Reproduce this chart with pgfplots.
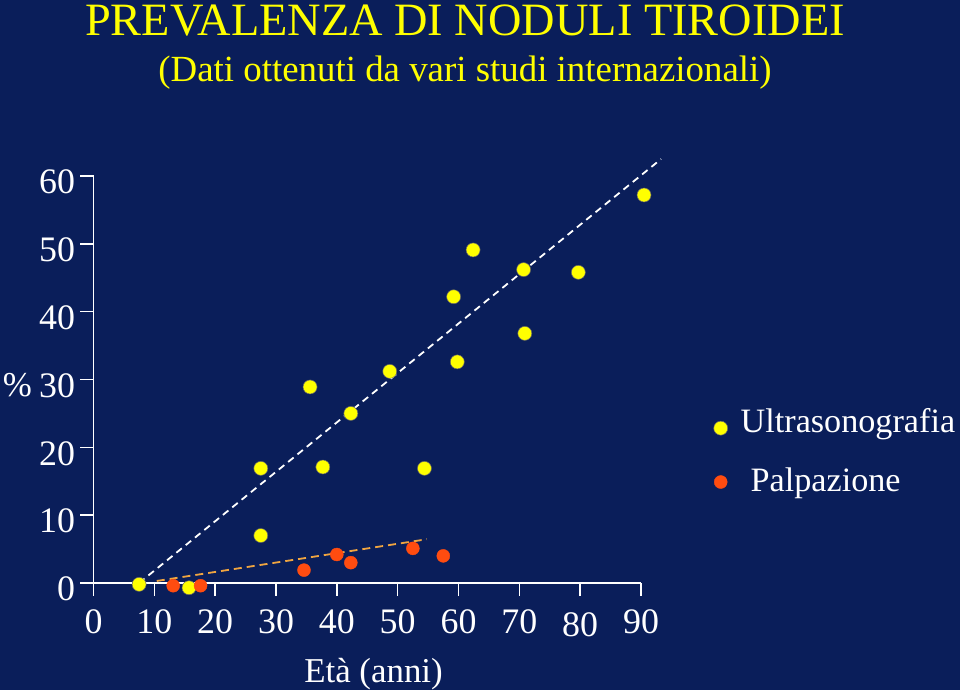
\documentclass[border=0pt]{standalone}
\usepackage{fontspec}
\setmainfont{Liberation Serif}
\usepackage{pgfplots}
\pgfplotsset{compat=1.18}

\definecolor{navy}{RGB}{10,30,90}
\definecolor{dotyellow}{RGB}{255,255,0}
\definecolor{dotorange}{RGB}{255,76,16}
\definecolor{lineorange}{RGB}{240,165,64}

\begin{document}
\begin{tikzpicture}
\fill[navy] (0bp,0bp) rectangle (960bp,690bp);
\useasboundingbox (0bp,0bp) rectangle (960bp,690bp);

\node[anchor=base, text=dotyellow, font=\fontsize{46.5}{46.5}\selectfont, inner sep=0pt]
  at (465bp,654bp) {PREVALENZA DI NODULI TIROIDEI};
\node[anchor=base, text=dotyellow, font=\fontsize{37}{37}\selectfont, inner sep=0pt]
  at (465bp,608bp) {(Dati ottenuti da vari studi internazionali)};

\begin{axis}[
    at={(93.5bp,107bp)}, anchor=south west,
    scale only axis, width=547.5bp, height=407bp,
    xmin=0, xmax=90, ymin=0, ymax=60,
    clip=false,
    axis lines*=left,
    axis line style={white, line width=1.6bp},
    tick align=outside,
    major tick length=13bp,
    tick style={white, line width=1.6bp},
    xtick={0,10,...,90},
    xticklabels={0,10,20,30,40,50,60,70,\raisebox{-3.5bp}[\height][\depth]{80},90},
    ytick={0,10,...,60},
    /pgf/number format/assume math mode=true,
    ticklabel style={text=white, font=\fontsize{36}{36}\selectfont},
    xticklabel style={anchor=north, yshift=-10bp},
    yticklabel style={anchor=east, yshift=-6bp, xshift=-2bp},
    legend style={at={(rel axis cs:1.127,0.32)}, anchor=west, draw=none, fill=none,
      text=white, font=\fontsize{34.3}{34.3}\selectfont, row sep=16bp},
    legend cell align=left,
]
% regression lines
\addplot[forget plot, white, line width=1.8bp, dash pattern=on 7bp off 5bp]
  coordinates {(7.5,0) (93.3,62.5)};
\addplot[forget plot, lineorange, line width=1.8bp, dash pattern=on 8bp off 5bp]
  coordinates {(10.4,0.3) (54.8,6.45)};

% Ultrasonografia
\addplot[only marks, mark=*, mark size=7bp,
  mark options={fill=dotyellow, draw=black!60, line width=0.5bp}]
  coordinates {
    (7.5,-0.2) (15.7,-0.7) (27.5,16.9) (27.5,7.0) (35.6,28.9) (37.7,17.1)
    (42.3,25.0) (48.7,31.2) (54.4,16.9) (59.2,42.2) (59.8,32.6) (62.4,49.1)
    (70.7,46.2) (70.9,36.8) (79.7,45.8) (90.5,57.2)
  };
\addlegendentry{\hspace{11bp}\raisebox{13bp}{Ultrasonografia}}

% Palpazione
\addplot[only marks, mark=*, mark size=6.5bp,
  mark options={fill=dotorange, draw=dotorange}]
  coordinates {
    (13.1,-0.4) (17.6,-0.4) (34.6,1.9) (40.0,4.2) (42.3,3.0) (52.5,5.1) (57.5,4.0)
  };
\addlegendentry{\hspace{21bp}\raisebox{4bp}{Palpazione}}
\end{axis}

\node[anchor=base, text=white, font=\fontsize{35}{35}\selectfont, inner sep=0pt]
  at (17.5bp,293bp) {\%};
\node[anchor=base, text=white, font=\fontsize{35}{35}\selectfont, inner sep=0pt]
  at (373.5bp,8bp) {Età (anni)};
\end{tikzpicture}
\end{document}
